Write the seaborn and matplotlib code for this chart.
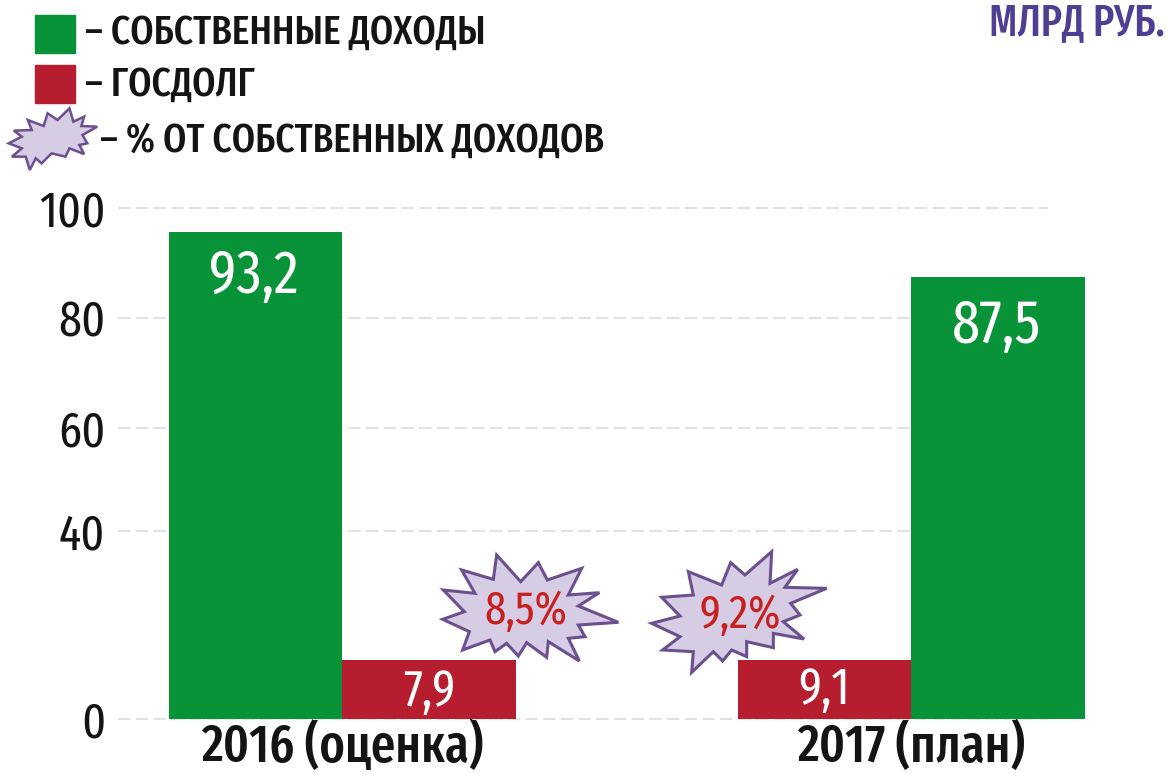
import numpy as np
import pandas as pd
import matplotlib
matplotlib.use('Agg')
import matplotlib.pyplot as plt
from matplotlib.patches import Polygon, Rectangle
import seaborn as sns

W, H = 1168, 774

years = ['2016 (оценка)', '2017 (план)']
own_income = [93.2, 87.5]
state_debt = [7.9, 9.1]
debt_share = ['8,5%', '9,2%']
# bar heights as drawn in the picture (they do not follow the printed numbers exactly)
own_height = [95.6, 87.5]
debt_height = [12.5, 12.5]
y_ticks = [0, 40, 60, 80, 100]
# the printed axis is not even, pixel height above zero for each tick
y_tick_px = [0, 188, 291, 401, 511]

OWN = 'СОБСТВЕННЫЕ ДОХОДЫ'
DEBT = 'ГОСДОЛГ'
GREEN = '#089338'
RED = '#b61d2e'
STAR_FILL = '#d6cce4'
STAR_EDGE = '#6b4f8e'

star_2016 = [(200, 45), (272, 125), (325, 68), (352, 120), (455, 85), (415, 165), (508, 158), (445, 198),
             (565, 247), (445, 255), (465, 290), (415, 295), (448, 363), (355, 305), (350, 352), (290, 308),
             (265, 348), (230, 310), (195, 335), (180, 300), (98, 330), (118, 275), (38, 238), (103, 215),
             (40, 150), (135, 160), (95, 90), (190, 118)]
star_2017 = [(1025, 35), (1020, 130), (1103, 88), (1065, 142), (1190, 145), (1082, 190), (1110, 225),
             (1060, 245), (1122, 297), (1030, 280), (1030, 323), (950, 305), (950, 350), (905, 330),
             (878, 363), (850, 335), (785, 397), (790, 335), (698, 330), (750, 290), (665, 250), (750, 228),
             (695, 172), (790, 165), (775, 95), (875, 135), (902, 68), (945, 105)]
star_legend = [(175, 325), (185, 365), (212, 350), (205, 378), (245, 380), (208, 405), (220, 430), (200, 435),
               (212, 462), (175, 445), (165, 470), (130, 460), (105, 490), (90, 475), (75, 510), (65, 470),
               (30, 470), (55, 445), (22, 430), (55, 410), (35, 392), (80, 390), (70, 360), (110, 378),
               (120, 340), (145, 360)]

df = pd.DataFrame({
    'year': years * 2,
    'kind': [OWN] * 2 + [DEBT] * 2,
    'height': own_height + debt_height,
})

sns.set_theme(style='white')
plt.rcParams['font.family'] = ['Fira Sans Extra Condensed', 'DejaVu Sans']

fig = plt.figure(figsize=(W / 100, H / 100), dpi=100)
ax = fig.add_axes([118 / W, 1 - 719 / H, (1048 - 118) / W, 511 / H])

# 2016 has the green bar first, 2017 the red one, so each year is its own call
palette = {OWN: GREEN, DEBT: RED}
sns.barplot(data=df[df['year'] == years[0]], x='year', y='height', hue='kind', order=years,
            hue_order=[OWN, DEBT], palette=palette, width=347 / 569, gap=0, saturation=1,
            legend=False, ax=ax)
sns.barplot(data=df[df['year'] == years[1]], x='year', y='height', hue='kind', order=years,
            hue_order=[DEBT, OWN], palette=palette, width=347 / 569, gap=0, saturation=1,
            legend=False, ax=ax)
for bar in ax.patches:
    bar.set_clip_on(False)
    bar.set_zorder(3)
    bar.set_edgecolor('none')


def forward(v):
    return np.interp(v, y_ticks, y_tick_px)


def inverse(v):
    return np.interp(v, y_tick_px, y_ticks)


ax.set_yscale('function', functions=(forward, inverse))
ax.set_xlim((118 - 342) / 569, (1048 - 342) / 569)
ax.set_ylim(0, 100)
ax.set_yticks(y_ticks)
ax.set_yticklabels([str(t) for t in y_ticks], fontsize=36, color='#141414', fontweight=400)
ax.minorticks_off()
ax.set_xticks([0, 1])
ax.set_xticklabels(years, fontsize=38, fontweight=500, color='#141414')
ax.tick_params(axis='y', length=0, pad=9)
ax.tick_params(axis='x', length=0, pad=1)
ax.set_xlabel('')
ax.set_ylabel('')
ax.grid(axis='y', color='#e2e2e2', linewidth=1.5, linestyle=(0, (6, 2.5)), clip_on=False)
ax.set_axisbelow(True)
sns.despine(ax=ax, left=True, bottom=True)


def put(x, y, s, **kw):
    kw.setdefault('ha', 'center')
    kw.setdefault('va', 'center')
    return fig.text(x / W, 1 - y / H, s, zorder=6, **kw)


def star(points, sx, sy, x0=0, y0=0, lw=2.2):
    xy = [((x0 + px / sx) / W, 1 - (y0 + py / sy) / H) for px, py in points]
    fig.add_artist(Polygon(xy, closed=True, transform=fig.transFigure, facecolor=STAR_FILL,
                           edgecolor=STAR_EDGE, linewidth=lw, joinstyle='miter', zorder=4))


# values inside the bars
put(254, 276, str(own_income[0]).replace('.', ','), color='white', fontsize=44, fontweight=400)
put(996, 326, str(own_income[1]).replace('.', ','), color='white', fontsize=44, fontweight=400)
put(429, 692, str(state_debt[0]).replace('.', ','), color='white', fontsize=37, fontweight=400)
put(824, 690, str(state_debt[1]).replace('.', ','), color='white', fontsize=37, fontweight=400)

# bursts
star(star_2016, 3, 3, 430, 540)
star(star_2017, 3, 3, 430, 540)
put(526, 612, debt_share[0], color='#c8201f', fontsize=33.5, fontweight=400)
put(740, 616, debt_share[1], color='#c8201f', fontsize=33.5, fontweight=400)

# legend
fig.add_artist(Rectangle((35 / W, 1 - 53 / H), 40 / W, 38 / H, transform=fig.transFigure, color=GREEN))
fig.add_artist(Rectangle((35 / W, 1 - 103 / H), 40 / W, 38 / H, transform=fig.transFigure, color=RED))
star(star_legend, 2.52, 3, lw=1.8)
put(85, 33, '– ' + OWN, ha='left', fontsize=29.3, color='#141414', fontweight=500)
put(85, 85, '– ' + DEBT, ha='left', fontsize=29.3, color='#141414', fontweight=500)
put(100, 141, '– % ОТ СОБСТВЕННЫХ ДОХОДОВ', ha='left', fontsize=29.3, color='#141414', fontweight=500)
put(1165, 23, 'МЛРД РУБ.', ha='right', fontsize=31, color='#4f3f94', fontweight=500)

fig.savefig('out.png', dpi=100)
